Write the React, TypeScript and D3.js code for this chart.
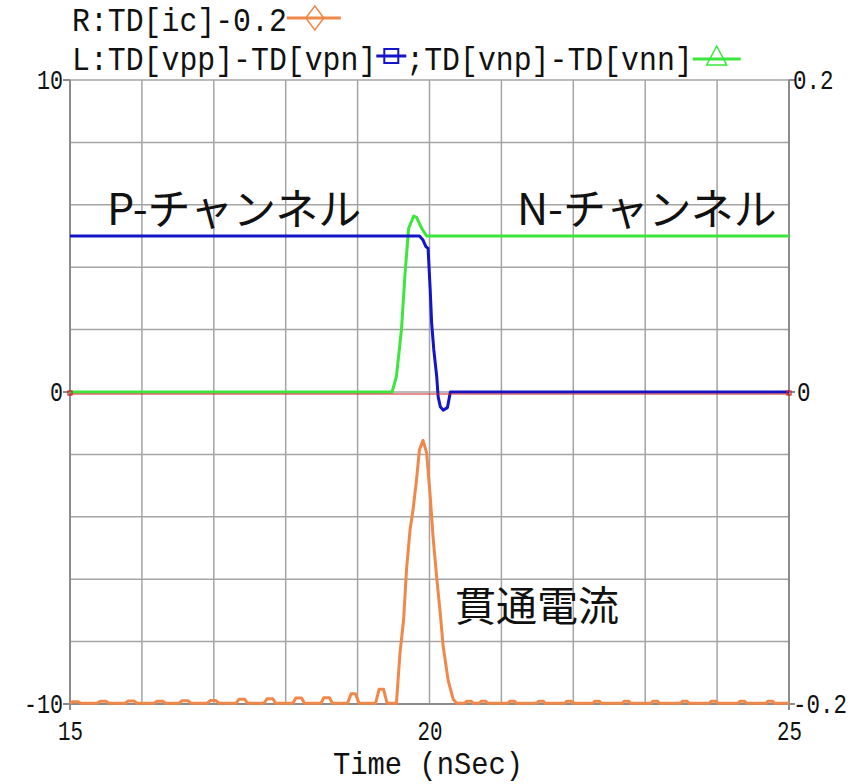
import * as d3 from 'd3';

const timeDomain = [15, 25];
const leftDomain = [-10, 10];
const rightDomain = [-0.2, 0.2];

const xTicks = [15, 20, 25];
const xTickLabels = ['15', '20', '25'];
const leftTicks = [10, 0, -10];
const leftTickLabels = ['10', '0', '-10'];
const rightTicks = [0.2, 0, -0.2];
const rightTickLabels = ['0.2', '0', '-0.2'];

const legendLine1 = 'R:TD[ic]-0.2';
const legendLine2a = 'L:TD[vpp]-TD[vpn]';
const legendLine2b = ';TD[vnp]-TD[vnn]';

// L: TD[vpp]-TD[vpn]  (P-channel)
const pChannel: [number, number][] = [
  [15, 5], [19.86, 5], [19.91, 4.87], [19.95, 4.66], [19.98, 4.6], [20.01, 3.27],
  [20.03, 2.2], [20.06, 1.35], [20.1, 0.5], [20.12, -0.15], [20.15, -0.47],
  [20.19, -0.58], [20.25, -0.5], [20.29, 0], [25, 0],
];

// L: TD[vnp]-TD[vnn]  (N-channel)
const nChannel: [number, number][] = [
  [15, 0], [19.48, 0], [19.54, 0.5], [19.61, 2.0], [19.66, 3.8], [19.71, 5.25],
  [19.78, 5.64], [19.82, 5.6], [19.89, 5.25], [19.96, 5.0], [25, 5.0],
];

// R: TD[ic]-0.2  (shoot-through current)
const icCurve: [number, number][] = [
  [15.0, -0.1995], [15.03, -0.1985], [15.11, -0.1985], [15.15, -0.1995],
  [15.38, -0.1995], [15.42, -0.1983], [15.5, -0.1983], [15.54, -0.1995],
  [15.77, -0.1995], [15.81, -0.198], [15.89, -0.198], [15.93, -0.1995],
  [16.17, -0.1995], [16.21, -0.1983], [16.29, -0.1983], [16.33, -0.1995],
  [16.52, -0.1995], [16.56, -0.1979], [16.64, -0.1979], [16.68, -0.1995],
  [16.91, -0.1995], [16.95, -0.1978], [17.03, -0.1978], [17.07, -0.1995],
  [17.31, -0.1995], [17.35, -0.197], [17.43, -0.197], [17.47, -0.1995],
  [17.7, -0.1995], [17.74, -0.1966], [17.82, -0.1966], [17.86, -0.1995],
  [18.1, -0.1995], [18.14, -0.1962], [18.22, -0.1962], [18.26, -0.1995],
  [18.49, -0.1995], [18.53, -0.196], [18.61, -0.196], [18.65, -0.1995],
  [18.86, -0.1995], [18.91, -0.1935], [18.97, -0.1935], [19.02, -0.1995],
  [19.25, -0.1995], [19.3, -0.1905], [19.36, -0.1905], [19.41, -0.1995],
  [19.54, -0.1995], [19.59, -0.167], [19.64, -0.146], [19.68, -0.114],
  [19.73, -0.088], [19.77, -0.076], [19.82, -0.056], [19.86, -0.037],
  [19.91, -0.031], [19.96, -0.039], [20.01, -0.067], [20.05, -0.093],
  [20.1, -0.119], [20.15, -0.142], [20.19, -0.163], [20.26, -0.185],
  [20.33, -0.197], [20.38, -0.1995],
  [20.49, -0.1995], [20.52, -0.1982], [20.58, -0.1982], [20.61, -0.1995],
  [20.69, -0.1995], [20.72, -0.1982], [20.78, -0.1982], [20.81, -0.1995],
  [21.09, -0.1995], [21.12, -0.1982], [21.18, -0.1982], [21.21, -0.1995],
  [21.49, -0.1995], [21.52, -0.1982], [21.58, -0.1982], [21.61, -0.1995],
  [21.88, -0.1995], [21.91, -0.1982], [21.97, -0.1982], [22.0, -0.1995],
  [22.27, -0.1995], [22.3, -0.1982], [22.36, -0.1982], [22.39, -0.1995],
  [22.68, -0.1995], [22.71, -0.1982], [22.77, -0.1982], [22.8, -0.1995],
  [23.08, -0.1995], [23.11, -0.1982], [23.17, -0.1982], [23.2, -0.1995],
  [23.49, -0.1995], [23.52, -0.1982], [23.58, -0.1982], [23.61, -0.1995],
  [23.89, -0.1995], [23.92, -0.1982], [23.98, -0.1982], [24.01, -0.1995],
  [24.29, -0.1995], [24.32, -0.1982], [24.38, -0.1982], [24.41, -0.1995],
  [24.68, -0.1995], [24.71, -0.1982], [24.77, -0.1982], [24.8, -0.1995],
  [25.0, -0.1995],
];

const BLUE = '#1414c8';
const GREEN = '#3ce63c';
const ORANGE = '#f0884a';
const GRID = '#a4a4a4';

const monoFont = '"Liberation Mono", "DejaVu Sans Mono", monospace';
const jpFont = '"Noto Sans CJK JP", "Noto Sans", sans-serif';

export default function App() {
  const left = 70, right = 789, top = 80, bottom = 704;

  const x = d3.scaleLinear().domain(timeDomain).range([left, right]);
  const yL = d3.scaleLinear().domain(leftDomain).range([bottom, top]);
  const yR = d3.scaleLinear().domain(rightDomain).range([bottom, top]);

  const lineL = d3.line<[number, number]>().x(d => x(d[0])).y(d => yL(d[1]));
  const lineR = d3.line<[number, number]>().x(d => x(d[0])).y(d => yR(d[1]));

  const xGrid = x.ticks(10);
  const yGrid = yL.ticks(10);

  const charW = 17.9;
  const l1End = 72 + legendLine1.length * charW;
  const l2aEnd = 72 + legendLine2a.length * charW;
  const l2bStart = l2aEnd + 30;
  const l2bEnd = l2bStart + legendLine2b.length * charW;

  return (
    <svg width={860} height={784} style={{ position: 'absolute', left: 0, top: 0, background: '#fff' }}>
      <rect width={860} height={784} fill="#fff" />

      {/* grid */}
      <g stroke={GRID} strokeWidth={1.5}>
        {xGrid.map(t => (
          <line key={'gx' + t} x1={x(t)} x2={x(t)} y1={top} y2={bottom} />
        ))}
        {yGrid.map(v => (
          <line key={'gy' + v} x1={left} x2={right} y1={yL(v)} y2={yL(v)} />
        ))}
      </g>

      {/* axis frame + ticks */}
      <g stroke="#8c8c8c" strokeWidth={2}>
        <line x1={left} x2={left} y1={top} y2={bottom + 6} />
        <line x1={right} x2={right} y1={top} y2={bottom + 6} />
        <line x1={left - 6} x2={right + 6} y1={bottom} y2={bottom} />
        {leftTicks.map(v => (
          <line key={'lt' + v} x1={left - 7} x2={left} y1={yL(v)} y2={yL(v)} />
        ))}
        {rightTicks.map(v => (
          <line key={'rt' + v} x1={right} x2={right + 6} y1={yR(v)} y2={yR(v)} />
        ))}
      </g>

      {/* series */}
      <path d={lineR(icCurve) ?? ''} fill="none" stroke={ORANGE} strokeWidth={3} strokeLinejoin="round" />
      <path d={lineL(nChannel) ?? ''} fill="none" stroke={GREEN} strokeWidth={3} strokeLinejoin="round" />
      <path d={lineL(pChannel) ?? ''} fill="none" stroke={BLUE} strokeWidth={3} strokeLinejoin="round" />

      {/* zero reference line */}
      <g transform="translate(0,2)">
        <line x1={left} x2={right} y1={yL(0)} y2={yL(0)} stroke="#d02020" strokeWidth={1} />
        <rect x={left - 2} y={yL(0) - 3} width={4} height={4} fill="none" stroke="#d02020" strokeWidth={1.2} />
        <rect x={right - 2} y={yL(0) - 3} width={4} height={4} fill="none" stroke="#d02020" strokeWidth={1.2} />
      </g>

      {/* tick labels */}
      <g fontFamily={monoFont} fontSize={27} fill="#111">
        {leftTicks.map((v, i) => (
          <text key={'ll' + v} x={left - 7} y={yL(v) + 9} textAnchor="end"
            textLength={leftTickLabels[i].length * 13} lengthAdjust="spacingAndGlyphs">
            {leftTickLabels[i]}
          </text>
        ))}
        {rightTicks.map((v, i) => (
          <text key={'rl' + v} x={right + (rightTickLabels[i] === '0' ? 8 : 4)} y={yR(v) + 9}
            textLength={rightTickLabels[i].length * 13.5} lengthAdjust="spacingAndGlyphs">
            {rightTickLabels[i]}
          </text>
        ))}
        {xTicks.map((t, i) => (
          <text key={'xl' + t} x={x(t) - 12} y={bottom + 36}
            textLength={xTickLabels[i].length * 12.5} lengthAdjust="spacingAndGlyphs">
            {xTickLabels[i]}
          </text>
        ))}
      </g>

      <text x={333} y={774} fontFamily={monoFont} fontSize={32} fill="#111"
        textLength={190} lengthAdjust="spacingAndGlyphs">Time (nSec)</text>

      {/* legend */}
      <g fontFamily={monoFont} fontSize={34} fill="#111">
        <text x={72} y={31} textLength={legendLine1.length * charW} lengthAdjust="spacingAndGlyphs">{legendLine1}</text>
        <text x={72} y={70} textLength={legendLine2a.length * charW} lengthAdjust="spacingAndGlyphs">{legendLine2a}</text>
        <text x={l2bStart} y={70} textLength={legendLine2b.length * charW} lengthAdjust="spacingAndGlyphs">{legendLine2b}</text>
      </g>
      <g fill="none" strokeWidth={2}>
        <line x1={l1End} x2={l1End + 54} y1={18} y2={18} stroke={ORANGE} strokeWidth={3} />
        <path d={`M${l1End + 28},6 L${l1End + 37},18 L${l1End + 28},30 L${l1End + 19},18 Z`} stroke={ORANGE} strokeWidth={1.5} />
        <line x1={l2aEnd} x2={l2aEnd + 30} y1={56} y2={56} stroke={BLUE} strokeWidth={3} />
        <rect x={l2aEnd + 8} y={49} width={14} height={14} stroke={BLUE} strokeWidth={2} />
        <line x1={l2bEnd} x2={l2bEnd + 48} y1={59} y2={59} stroke={GREEN} strokeWidth={3} />
        <path d={`M${l2bEnd + 24},46 L${l2bEnd + 34},65 L${l2bEnd + 14},65 Z`} stroke={GREEN} strokeWidth={1.5} />
      </g>

      {/* annotations */}
      <g fontFamily={jpFont} fontSize={43} fill="#111">
        <text x={107} y={225}>P-チャンネル</text>
        <text x={517} y={225}>N-チャンネル</text>
        <text x={455} y={621} fontSize={41}>貫通電流</text>
      </g>
    </svg>
  );
}
